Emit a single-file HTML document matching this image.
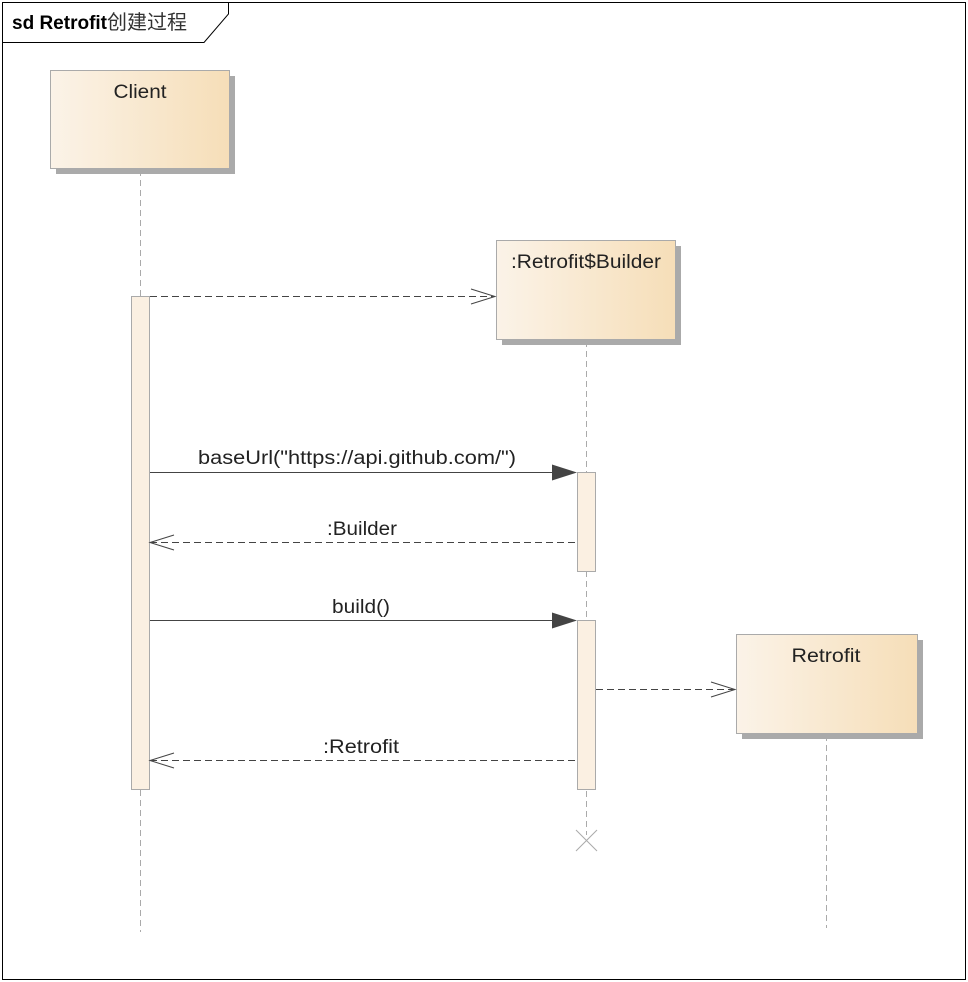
<!DOCTYPE html>
<html><head><meta charset="utf-8"><style>
html,body{margin:0;padding:0;background:#fff;}
svg{display:block;font-family:"Liberation Sans","Noto Sans CJK SC",sans-serif;}
</style></head><body>
<svg width="968" height="982" viewBox="0 0 968 982" xmlns="http://www.w3.org/2000/svg">
<defs>
<linearGradient id="g" x1="0" x2="1" y1="0" y2="0">
<stop offset="0" stop-color="#fbf3e8"/><stop offset="1" stop-color="#f6deb8"/>
</linearGradient>
</defs>
<rect x="2.5" y="2.5" width="963" height="977" fill="#fff" stroke="#000"/>
<path d="M2.5 42.5 H204 L228.5 14 V2.5" fill="none" stroke="#000"/>
<text x="12" y="29" font-size="19"><tspan font-weight="bold" textLength="95" lengthAdjust="spacingAndGlyphs">sd Retrofit</tspan><tspan fill="#333" font-size="20">创建过程</tspan></text>

<g stroke="#aaa" stroke-dasharray="6,4" fill="none">
<line x1="140.5" y1="170" x2="140.5" y2="932"/>
<line x1="586.5" y1="341" x2="586.5" y2="835"/>
<line x1="826.5" y1="735" x2="826.5" y2="928"/>
</g>
<path d="M576 830 L597 851 M597 830 L576 851" stroke="#aaa" stroke-width="1"/>

<rect x="56" y="76" width="179" height="98" fill="#aaa"/>
<rect x="50.5" y="70.5" width="179" height="98" fill="url(#g)" stroke="#aaa"/>
<text x="140" y="98" font-size="19" text-anchor="middle" fill="#222" textLength="53" lengthAdjust="spacingAndGlyphs">Client</text>

<rect x="502" y="246" width="179" height="99" fill="#aaa"/>
<rect x="496.5" y="240.5" width="179" height="99" fill="url(#g)" stroke="#aaa"/>
<text x="586" y="268" font-size="19" text-anchor="middle" fill="#222" textLength="150" lengthAdjust="spacingAndGlyphs">:Retrofit$Builder</text>

<rect x="742" y="640" width="181" height="99" fill="#aaa"/>
<rect x="736.5" y="634.5" width="181" height="99" fill="url(#g)" stroke="#aaa"/>
<text x="826" y="662" font-size="19" text-anchor="middle" fill="#222" textLength="69" lengthAdjust="spacingAndGlyphs">Retrofit</text>

<rect x="131.5" y="296.5" width="18" height="493" fill="#fbf0e2" stroke="#aaa"/>
<rect x="577.5" y="472.5" width="18" height="99" fill="#fbf0e2" stroke="#aaa"/>
<rect x="577.5" y="620.5" width="18" height="169" fill="#fbf0e2" stroke="#aaa"/>

<g stroke="#444" fill="none">
<line x1="150" y1="296.5" x2="495" y2="296.5" stroke-dasharray="7,4"/>
<path d="M471 289 L495 296.5 L471 304"/>
<line x1="150" y1="472.5" x2="555" y2="472.5"/>
<line x1="150" y1="542.5" x2="577" y2="542.5" stroke-dasharray="7,4"/>
<path d="M174 535 L150 542.5 L174 550"/>
<line x1="150" y1="620.5" x2="555" y2="620.5"/>
<line x1="596" y1="689.5" x2="735" y2="689.5" stroke-dasharray="7,4"/>
<path d="M711 682 L735 689.5 L711 697"/>
<line x1="150" y1="760.5" x2="577" y2="760.5" stroke-dasharray="7,4"/>
<path d="M174 753 L150 760.5 L174 768"/>
</g>
<path d="M552 464.5 L577 472.5 L552 480.5 Z" fill="#444"/>
<path d="M552 612.5 L577 620.5 L552 628.5 Z" fill="#444"/>

<g font-size="19" text-anchor="middle" fill="#222" lengthAdjust="spacingAndGlyphs">
<text x="357" y="464" textLength="318" lengthAdjust="spacingAndGlyphs">baseUrl("https://api.github.com/")</text>
<text x="362" y="535" textLength="70" lengthAdjust="spacingAndGlyphs">:Builder</text>
<text x="361" y="613" textLength="58" lengthAdjust="spacingAndGlyphs">build()</text>
<text x="361" y="753" textLength="76" lengthAdjust="spacingAndGlyphs">:Retrofit</text>
</g>
</svg>
</body></html>
